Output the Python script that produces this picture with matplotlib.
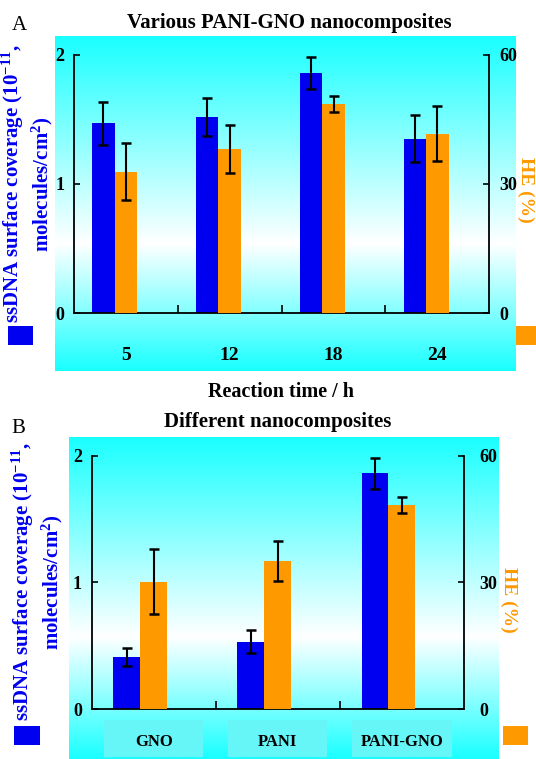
import numpy as np
import matplotlib
matplotlib.use('Agg')
import matplotlib.pyplot as plt
from matplotlib.colors import LinearSegmentedColormap
from matplotlib.patches import Rectangle
from matplotlib.transforms import blended_transform_factory

plt.rcParams['font.family'] = 'Liberation Serif'
plt.rcParams['font.weight'] = 'bold'
plt.rcParams['mathtext.fontset'] = 'custom'
plt.rcParams['mathtext.rm'] = 'Liberation Serif:bold'
plt.rcParams['mathtext.bf'] = 'Liberation Serif:bold'
plt.rcParams['mathtext.default'] = 'bf'

# panel A: reaction time
times = ['5', '12', '18', '24']
cov_a = [1.47, 1.52, 1.86, 1.35]
cov_a_err = [0.165, 0.146, 0.124, 0.18]
he_a = [32.8, 38.2, 48.5, 41.7]
he_a_err = [6.6, 5.6, 1.9, 6.3]

# panel B: different materials
materials = ['GNO', 'PANI', 'PANI-GNO']
cov_b = [0.41, 0.53, 1.86]
cov_b_err = [0.074, 0.09, 0.124]
he_b = [30.2, 35.1, 48.3]
he_b_err = [7.6, 4.8, 1.8]

BLUE = '#0000f0'
ORANGE = '#ff9900'
CYAN = '#1affff'
W, H = 536, 759

fig = plt.figure(figsize=(W / 100, H / 100), dpi=100)
grad = LinearSegmentedColormap.from_list('g', [(0, CYAN), (0.62, 'white'), (1, CYAN)])


def rect(x0, y0, x1, y1):
    return [x0 / W, 1 - y1 / H, (x1 - x0) / W, (y1 - y0) / H]


def square(x0, y0, x1, y1, c):
    fig.add_artist(Rectangle((x0 / W, 1 - y1 / H), (x1 - x0) / W, (y1 - y0) / H,
                             transform=fig.transFigure, color=c, lw=0))


def panel(box, axbox, cats, cov, cov_err, he, he_err, lpad, rpad, xpad, xsize):
    bg = fig.add_axes(rect(*box), zorder=0)
    bg.imshow(np.linspace(0, 1, 256)[:, None], cmap=grad, aspect='auto', extent=[0, 1, 0, 1])
    bg.axis('off')

    ax = fig.add_axes(rect(*axbox), zorder=1)
    ax.patch.set_visible(False)
    ax2 = ax.twinx()
    ax2.set_zorder(2)

    x = np.arange(len(cats))
    w = 0.217
    ax.bar(x - w, cov, w, color=BLUE, edgecolor='none')
    ax.errorbar(x - w, cov, yerr=cov_err, fmt='none', ecolor='black',
                elinewidth=1.5, capsize=3.5, capthick=1.8, zorder=3)
    ax2.bar(x, he, w, color=ORANGE, edgecolor='none')
    ax2.errorbar(x, he, yerr=he_err, fmt='none', ecolor='black',
                 elinewidth=1.5, capsize=3.5, capthick=1.8, zorder=3)

    ax.set_xlim(-0.5, len(cats) - 0.5)
    ax.set_ylim(0, 2)
    ax2.set_ylim(0, 60)
    ax.set_yticks([0, 1, 2])
    ax2.set_yticks([0, 30, 60])
    ax.set_xticks(np.arange(len(cats) - 1) + 0.5)
    ax.set_xticklabels([])
    ax.set_xticks(x, minor=True)
    ax.set_xticklabels(cats, minor=True)
    ax.tick_params(axis='x', which='major', direction='in', length=6, width=1.2)
    ax.tick_params(axis='x', which='minor', length=0, pad=xpad, labelsize=xsize)
    ax.tick_params(axis='y', direction='in', length=4, width=1.2, pad=lpad, labelsize=13)
    ax2.tick_params(axis='y', direction='in', length=4, width=1.2, pad=rpad, labelsize=13)

    for s in ['top', 'right']:
        ax.spines[s].set_visible(False)
    for s in ['top', 'left', 'bottom']:
        ax2.spines[s].set_visible(False)
    for s in ax.spines.values():
        s.set_linewidth(1.3)
    ax2.spines['right'].set_linewidth(1.3)
    return ax


# ---- A
axA = panel((55, 36, 516, 371), (74, 54.7, 489.3, 313.3),
            times, cov_a, cov_a_err, he_a, he_a_err, 7, 7, 24, 14)
fig.text(289 / W, 1 - 22.7 / H, 'Various PANI-GNO nanocomposites', ha='center', va='center', fontsize=15)
fig.text(19 / W, 1 - 26 / H, 'A', ha='center', va='center', fontsize=15, fontweight='normal')
fig.text(281 / W, 1 - 391.7 / H, 'Reaction time / h', ha='center', va='center', fontsize=14.5)
fig.text(27.5 / W, 1 - 184 / H, 'ssDNA surface coverage (10$^{-11}$,\nmolecules/cm$^{2}$)',
         rotation=90, ha='center', va='center', fontsize=15, color=BLUE, linespacing=1.2)
fig.text(526 / W, 1 - 190 / H, 'HE (%)', rotation=-90, ha='center', va='center',
         fontsize=14, color=ORANGE)
square(8, 326, 33, 345, BLUE)
square(516, 326, 540, 345, ORANGE)

# ---- B
axB = panel((68.7, 437, 498, 759), (91.7, 455.7, 464, 709),
            materials, cov_b, cov_b_err, he_b, he_b_err, 7, 11, 18, 12)
trans = blended_transform_factory(axB.transData, axB.transAxes)
for i in range(len(materials)):
    axB.add_patch(Rectangle((i - 0.4, -0.19), 0.8, 0.147, transform=trans,
                            facecolor='#66f6f8', lw=0, clip_on=False, zorder=-1))
fig.text(277.5 / W, 1 - 422 / H, 'Different nanocomposites', ha='center', va='center', fontsize=15)
fig.text(18 / W, 1 - 428.5 / H, 'B', ha='center', va='center', fontsize=15, fontweight='normal')
fig.text(37 / W, 1 - 582 / H, 'ssDNA surface coverage (10$^{-11}$,\nmolecules/cm$^{2}$)',
         rotation=90, ha='center', va='center', fontsize=15, color=BLUE, linespacing=1.2)
fig.text(509 / W, 1 - 600 / H, 'HE (%)', rotation=-90, ha='center', va='center',
         fontsize=14, color=ORANGE)
square(14.4, 726, 39.5, 745, BLUE)
square(503.4, 726, 528, 745, ORANGE)

fig.savefig('out.png', dpi=100)
